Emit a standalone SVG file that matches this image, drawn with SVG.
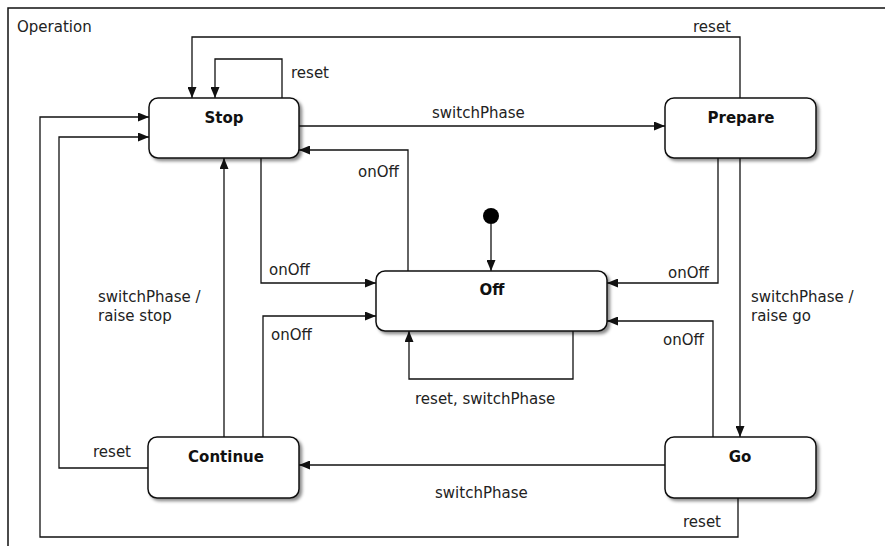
<svg xmlns="http://www.w3.org/2000/svg" width="885" height="546" viewBox="0 0 885 546">
<defs>
<style>
.frame{fill:none;stroke:#111;stroke-width:1.5}
.node rect{fill:#fff;stroke:#111;stroke-width:1.5;filter:url(#sh)}
.node text{font-family:"DejaVu Sans",sans-serif;font-size:15px;font-weight:bold;fill:#111;text-anchor:middle}
.lbl{font-family:"DejaVu Sans",sans-serif;font-size:15px;fill:#222}
.c path{fill:none;stroke:#111;stroke-width:1.3}
.c path.a{marker-end:url(#ah)}
</style>
<filter id="sh" x="-10%" y="-10%" width="130%" height="140%">
<feDropShadow dx="2.5" dy="2.5" stdDeviation="1.5" flood-color="#000" flood-opacity="0.45"/>
</filter>
<marker id="ah" markerWidth="11" markerHeight="9" refX="11" refY="4.5" orient="auto" markerUnits="userSpaceOnUse">
<path d="M0,0 L11,4.5 L0,9 Z" fill="#111"/>
</marker>
</defs>
<rect width="885" height="546" fill="#fff"/>
<path class="frame" d="M8,546 V8 H885"/>
<text class="lbl" x="17" y="32">Operation</text>

<g id="connectors" class="c">
<path class="a" d="M740,98 V37 H192 V98"/>
<path class="a" d="M282,98 V59 H215 V98"/>
<path class="a" d="M299,126 H665"/>
<path class="a" d="M408,271 V150 H299"/>
<path class="a" d="M261,158 V283 H376"/>
<path class="a" d="M718,158 V283 H607"/>
<path class="a" d="M740,158 V437"/>
<path class="a" d="M713,437 V321 H607"/>
<path class="a" d="M263,437 V316 H376"/>
<path class="a" d="M573,331 V379 H409 V331"/>
<path class="a" d="M224,437 V158"/>
<path class="a" d="M148,468 H59 V137 H149"/>
<path class="a" d="M738,498 V537 H40 V117 H149"/>
<path class="a" d="M665,465 H299"/>
<path class="a" d="M491,224 V271"/>
</g>

<g id="labels">
<text class="lbl" x="693" y="32">reset</text>
<text class="lbl" x="291" y="78">reset</text>
<text class="lbl" x="432" y="118">switchPhase</text>
<text class="lbl" x="358" y="177">onOff</text>
<text class="lbl" x="269" y="275">onOff</text>
<text class="lbl" x="668" y="278">onOff</text>
<text class="lbl" x="751" y="302">switchPhase /</text>
<text class="lbl" x="751" y="321">raise go</text>
<text class="lbl" x="663" y="345">onOff</text>
<text class="lbl" x="271" y="340">onOff</text>
<text class="lbl" x="415" y="404">reset, switchPhase</text>
<text class="lbl" x="98" y="302">switchPhase /</text>
<text class="lbl" x="98" y="321">raise stop</text>
<text class="lbl" x="93" y="457">reset</text>
<text class="lbl" x="683" y="527">reset</text>
<text class="lbl" x="435" y="498">switchPhase</text>
</g>

<g id="initial"><circle cx="491" cy="216" r="8" fill="#000"/></g>
<g id="Stop" class="node"><rect x="149" y="98" width="150" height="60" rx="9"/><text x="224" y="123">Stop</text></g>
<g id="Prepare" class="node"><rect x="665" y="98" width="151" height="60" rx="9"/><text x="741" y="123">Prepare</text></g>
<g id="Off" class="node"><rect x="376" y="271" width="231" height="60" rx="9"/><text x="492" y="295">Off</text></g>
<g id="Continue" class="node"><rect x="148" y="437" width="151" height="61" rx="9"/><text x="226" y="462">Continue</text></g>
<g id="Go" class="node"><rect x="665" y="437" width="151" height="61" rx="9"/><text x="740" y="462">Go</text></g>
</svg>
